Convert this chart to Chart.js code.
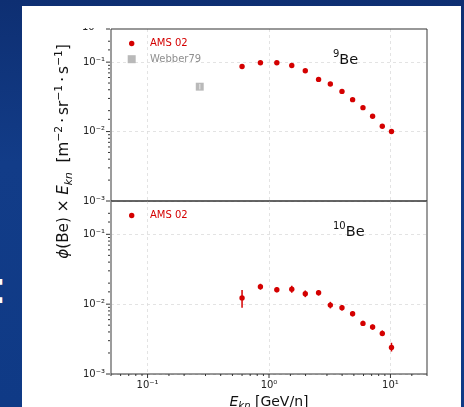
<!DOCTYPE html>
<html>
<head>
<meta charset="utf-8">
<script src="https://cdn.jsdelivr.net/npm/chart.js@4.4.0/dist/chart.umd.min.js"></script>
<style>
  html, body { margin: 0; padding: 0; }
  body {
    width: 464px; height: 407px; overflow: hidden; position: relative;
    background: linear-gradient(180deg, #0e2f72 0%, #123c88 40%, #0f3a86 100%);
  }
  #panel { position: absolute; left: 22px; top: 6px; width: 439px; height: 401px; background: #fff; }
  #colon { position: absolute; left: -8px; top: 260px; color: #fff; font: 46px "DejaVu Sans", sans-serif; }
  canvas { position: absolute; left: 0; top: 0; }
</style>
</head>
<body>
<div id="panel"></div>
<div id="colon">:</div>
<canvas id="be9Chart" width="464" height="407"></canvas>
<canvas id="be10Chart" width="464" height="407"></canvas>
<script>
// kinetic energy per nucleon, GeV/n
const energy = [0.60, 0.85, 1.16, 1.54, 1.99, 2.56, 3.20, 3.99, 4.88, 5.94, 7.13, 8.57, 10.2];

// flux x E_kn
const be9Flux  = [0.0867, 0.0978, 0.0978, 0.0896, 0.0751, 0.0564, 0.0483, 0.0379, 0.0288, 0.0221, 0.0166, 0.0119, 0.0100];
const be10Flux = [0.0123, 0.0178, 0.0161, 0.0164, 0.0141, 0.0146, 0.0097, 0.0089, 0.0073, 0.0053, 0.0047, 0.0038, 0.0024];
const be10Lo   = [0.0089, 0.0161, 0.0148, 0.0146, 0.0126, 0.0133, 0.0087, 0.0081, 0.0067, 0.0049, 0.0043, 0.0035, 0.0021];
const be10Hi   = [0.0159, 0.0196, 0.0175, 0.0184, 0.0157, 0.0159, 0.0108, 0.0097, 0.0079, 0.0058, 0.0051, 0.0042, 0.0028];

const webberEnergy = [0.269];
const webberFlux   = [0.0443];
const webberLo     = [0.0405];
const webberHi     = [0.0485];

const RED = '#d40000';
const GREY = '#b9b9b9';
const FONT = '"DejaVu Sans", sans-serif';
const SUP = { '-': '\u207B', '0': '\u2070', '1': '\u00B9', '2': '\u00B2', '3': '\u00B3' };

function isDecade(v) {
  const l = Math.log10(v);
  return Math.abs(l - Math.round(l)) < 1e-6;
}
function decadeLabel(v) {
  const e = String(Math.round(Math.log10(v)));
  return '10' + e.split('').map(c => SUP[c]).join('');
}
function pairs(xs, ys) {
  return xs.map((x, i) => ({ x: x, y: ys[i] }));
}

function drawRich(ctx, parts, x, y, align) {
  const widths = parts.map(p => { ctx.font = p.font; return ctx.measureText(p.t).width; });
  const total = widths.reduce((s, w) => s + w, 0);
  let cx = align === 'center' ? x - total / 2 : x;
  ctx.textAlign = 'left';
  ctx.textBaseline = 'alphabetic';
  parts.forEach((p, i) => {
    ctx.font = p.font;
    ctx.fillText(p.t, cx, y + (p.dy || 0));
    cx += widths[i];
  });
}

function line(ctx, x1, y1, x2, y2) {
  ctx.beginPath();
  ctx.moveTo(x1, y1);
  ctx.lineTo(x2, y2);
  ctx.stroke();
}

const gridColor = c => (c.tick && isDecade(c.tick.value)) ? '#dcdcdc' : 'rgba(0,0,0,0)';

function xScale(showLabels, height) {
  return {
    type: 'logarithmic', min: 0.05, max: 20,
    afterFit: s => { s.height = height; },
    border: { display: false, dash: [3, 3] },
    grid: { drawTicks: false, lineWidth: 0.8, color: gridColor },
    ticks: {
      display: showLabels, autoSkip: false, maxRotation: 0, padding: 5,
      color: '#222', font: { family: FONT, size: 10 },
      callback: v => isDecade(v) ? decadeLabel(v) : ''
    }
  };
}

function yScale() {
  return {
    type: 'logarithmic', min: 0.001, max: 0.3,
    afterFit: s => { s.width = 111; },
    border: { display: false, dash: [3, 3] },
    grid: { drawTicks: false, lineWidth: 0.8, color: gridColor },
    ticks: {
      autoSkip: false, padding: 6,
      color: '#222', font: { family: FONT, size: 10 },
      callback: v => isDecade(v) ? decadeLabel(v) : ''
    }
  };
}

// spines, tick marks, error bars, legend and isotope tag
const panelDecor = {
  id: 'panelDecor',
  afterDatasetsDraw(chart) {
    const { ctx, scales: { x, y } } = chart;
    chart.data.datasets.forEach(ds => {
      if (!ds.errLo) return;
      ctx.save();
      ctx.strokeStyle = ds.errColor;
      ctx.lineWidth = 1.5;
      ds.data.forEach((p, i) => {
        const px = x.getPixelForValue(p.x);
        line(ctx, px, y.getPixelForValue(ds.errLo[i]), px, y.getPixelForValue(ds.errHi[i]));
      });
      ctx.restore();
    });
  },
  afterDraw(chart, args, opts) {
    const { ctx, chartArea: a, scales: { x, y } } = chart;
    ctx.save();

    ctx.lineWidth = 2;
    ctx.strokeStyle = '#9c9c9c';
    line(ctx, a.left, a.top, a.left, a.bottom);
    line(ctx, a.right, a.top, a.right, a.bottom);
    ctx.lineWidth = 1.2;
    ctx.strokeStyle = '#333';
    line(ctx, a.left, a.top, a.right, a.top);
    line(ctx, a.left, a.bottom, a.right, a.bottom);

    ctx.lineWidth = 1;
    y.ticks.forEach(t => {
      if (t.value >= y.max) return;
      const p = y.getPixelForValue(t.value);
      const len = isDecade(t.value) ? 4 : 2;
      line(ctx, a.left - 1 - len, p, a.left - 1, p);
    });
    if (opts.xTicks) {
      x.ticks.forEach(t => {
        const p = x.getPixelForValue(t.value);
        const len = isDecade(t.value) ? 4 : 2;
        line(ctx, p, a.bottom, p, a.bottom + len);
      });
    }

    // label left over at the top edge of the upper panel
    if (opts.cutLabel) {
      line(ctx, a.left - 5, a.top, a.left - 1, a.top);
      ctx.save();
      ctx.beginPath();
      ctx.rect(0, a.top - 1, a.left, 12);
      ctx.clip();
      ctx.fillStyle = '#222';
      ctx.font = '10px ' + FONT;
      ctx.textAlign = 'right';
      ctx.textBaseline = 'middle';
      ctx.fillText(decadeLabel(0.001), a.left - 7, a.top - 2);
      ctx.restore();
    }

    chart.data.datasets.forEach((ds, i) => {
      const cy = a.top + 14.5 + i * 15.7;
      ctx.fillStyle = ds.backgroundColor;
      if (ds.pointStyle === 'rect') {
        ctx.fillRect(127.7, cy - 4, 8, 8);
      } else {
        ctx.beginPath();
        ctx.arc(131.7, cy, 2.7, 0, Math.PI * 2);
        ctx.fill();
      }
      ctx.fillStyle = ds.legendColor;
      ctx.font = '10px ' + FONT;
      ctx.textAlign = 'left';
      ctx.textBaseline = 'middle';
      ctx.fillText(ds.label, 150, cy);
    });

    ctx.fillStyle = '#111';
    drawRich(ctx, [
      { t: opts.mass, font: '10px ' + FONT, dy: -7 },
      { t: 'Be', font: '14.5px ' + FONT }
    ], 333, a.top + opts.tagDy, 'left');

    if (opts.axisTitles) {
      ctx.fillStyle = '#111';
      drawRich(ctx, [
        { t: 'E', font: 'italic 14px ' + FONT },
        { t: 'kn', font: 'italic 10px ' + FONT, dy: 3 },
        { t: ' [GeV/n]', font: '14px ' + FONT }
      ], 269, 406, 'center');

      ctx.save();
      ctx.translate(68, 151.5);
      ctx.rotate(-Math.PI / 2);
      const big = '15.2px ' + FONT, small = '10.8px ' + FONT;
      drawRich(ctx, [
        { t: '\u03D5', font: 'italic 15.2px ' + FONT },
        { t: '(Be) \u00D7 ', font: big },
        { t: 'E', font: 'italic 15.2px ' + FONT },
        { t: 'kn', font: 'italic 10.8px ' + FONT, dy: 3.5 },
        { t: '  [m', font: big },
        { t: '\u22122', font: small, dy: -6.5 },
        { t: '\u2009\u00B7\u2009sr', font: big },
        { t: '\u22121', font: small, dy: -6.5 },
        { t: '\u2009\u00B7\u2009s', font: big },
        { t: '\u22121', font: small, dy: -6.5 },
        { t: ']', font: big }
      ], 0, 0, 'center');
      ctx.restore();
    }
    ctx.restore();
  }
};
Chart.register(panelDecor);

function baseOptions(top, bottom, xHeight, showX, decor) {
  return {
    responsive: false,
    animation: false,
    devicePixelRatio: 1,
    layout: { padding: { left: 0, right: 37, top: top, bottom: bottom } },
    plugins: { legend: { display: false }, tooltip: { enabled: false }, panelDecor: decor },
    scales: { x: xScale(showX, xHeight), y: yScale() }
  };
}

new Chart(document.getElementById('be9Chart'), {
  type: 'scatter',
  data: {
    datasets: [
      { label: 'AMS 02', data: pairs(energy, be9Flux), backgroundColor: RED, legendColor: RED,
        pointRadius: 2.7, borderWidth: 0 },
      { label: 'Webber79', data: pairs(webberEnergy, webberFlux), backgroundColor: GREY, legendColor: '#8f8f8f',
        pointStyle: 'rect', pointRadius: 5.6, borderWidth: 0,
        errLo: webberLo, errHi: webberHi, errColor: '#dadada' }
    ]
  },
  options: baseOptions(29, 407 - 201, 0, false, { mass: '9', tagDy: 35, cutLabel: true, xTicks: false, axisTitles: false })
});

new Chart(document.getElementById('be10Chart'), {
  type: 'scatter',
  data: {
    datasets: [
      { label: 'AMS 02', data: pairs(energy, be10Flux), backgroundColor: RED, legendColor: RED,
        pointRadius: 2.7, borderWidth: 0,
        errLo: be10Lo, errHi: be10Hi, errColor: RED }
    ]
  },
  options: baseOptions(201, 0, 407 - 374, true, { mass: '10', tagDy: 35, cutLabel: false, xTicks: true, axisTitles: true })
});
</script>
</body>
</html>
